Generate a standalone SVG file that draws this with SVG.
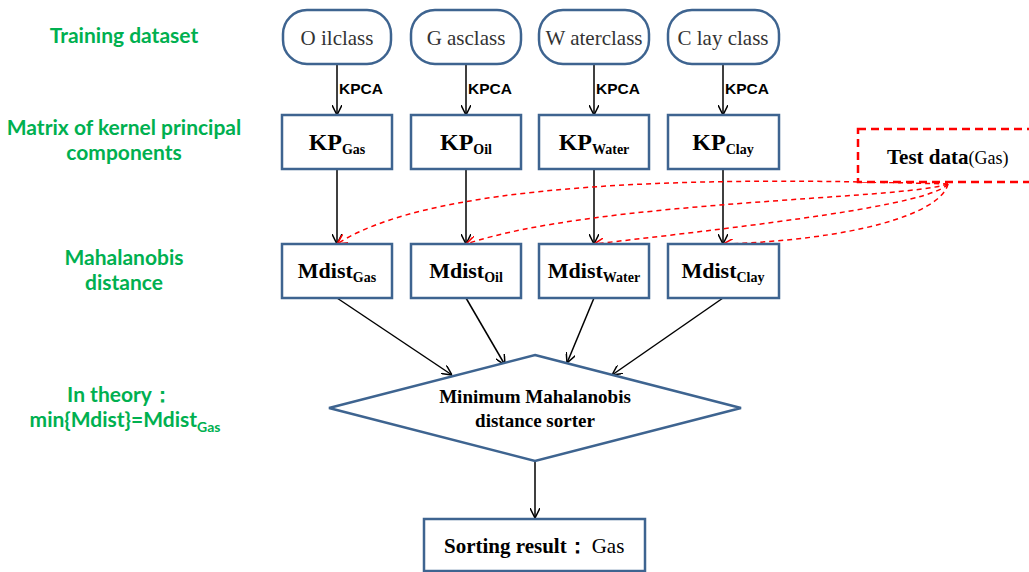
<svg xmlns="http://www.w3.org/2000/svg" width="1029" height="572" viewBox="0 0 1029 572">
<defs>
<style>
.box{fill:#fff;stroke:#3E6490;stroke-width:2.5}
.lbl{font-family:"Lato","Liberation Sans",sans-serif;font-weight:bold;fill:#00B050;font-size:21px;text-anchor:middle}
.cls{font-family:"Liberation Serif",serif;font-size:21px;fill:#333;text-anchor:middle}
.kpca{font-family:"Liberation Sans",sans-serif;font-weight:bold;font-size:15.5px;fill:#000}
.bt{font-family:"Liberation Serif",serif;font-weight:bold;fill:#000;text-anchor:middle}
.conn{stroke:#000;stroke-width:1.5;fill:none}
.red{stroke:#FF0000;stroke-width:1.5;fill:none;stroke-dasharray:5,4}
</style>
<marker id="ah" viewBox="0 0 10 10" refX="10" refY="5" markerWidth="10" markerHeight="10" markerUnits="userSpaceOnUse" orient="auto"><path d="M0,0 L10,5 L0,10" fill="none" stroke="#000" stroke-width="1.5"/></marker>
<marker id="rh" viewBox="0 0 10 10" refX="10" refY="5" markerWidth="10" markerHeight="10" markerUnits="userSpaceOnUse" orient="auto"><path d="M0,0 L10,5 L0,10" fill="none" stroke="#FF0000" stroke-width="1.5"/></marker>
</defs>
<rect width="1029" height="572" fill="#fff"/>

<g id="labels">
<text class="lbl" x="124" y="43">Training dataset</text>
<text class="lbl" x="124" y="135">Matrix of kernel principal</text>
<text class="lbl" x="124" y="160">components</text>
<text class="lbl" x="124" y="265">Mahalanobis</text>
<text class="lbl" x="124" y="290">distance</text>
<text class="lbl" x="120" y="402">In theory：</text>
<text class="lbl" x="125" y="427">min{Mdist}=Mdist<tspan font-size="14" dy="5">Gas</tspan></text>
</g>

<g id="connectors">
<line class="conn" x1="337" y1="64" x2="337" y2="115" marker-end="url(#ah)"/>
<line class="conn" x1="466" y1="64" x2="466" y2="115" marker-end="url(#ah)"/>
<line class="conn" x1="594" y1="64" x2="594" y2="115" marker-end="url(#ah)"/>
<line class="conn" x1="723" y1="64" x2="723" y2="115" marker-end="url(#ah)"/>
<line class="conn" x1="337" y1="169" x2="337" y2="244" marker-end="url(#ah)"/>
<line class="conn" x1="466" y1="169" x2="466" y2="244" marker-end="url(#ah)"/>
<line class="conn" x1="594" y1="169" x2="594" y2="244" marker-end="url(#ah)"/>
<line class="conn" x1="723" y1="169" x2="723" y2="244" marker-end="url(#ah)"/>
<line class="conn" x1="337" y1="298" x2="452" y2="375" marker-end="url(#ah)"/>
<line class="conn" x1="466" y1="298" x2="505" y2="365" marker-end="url(#ah)"/>
<line class="conn" x1="594" y1="298" x2="567" y2="363" marker-end="url(#ah)"/>
<line class="conn" x1="723" y1="298" x2="612" y2="375" marker-end="url(#ah)"/>
<line class="conn" x1="535" y1="461" x2="535" y2="518" marker-end="url(#ah)"/>
<path class="red" d="M948,184 C800,180 450,170 337,244" marker-end="url(#rh)"/>
<path class="red" d="M948,184 C900,200 600,200 466,244" marker-end="url(#rh)"/>
<path class="red" d="M948,184 C930,205 760,225 594,244" marker-end="url(#rh)"/>
<path class="red" d="M948,184 C940,215 850,240 723,244" marker-end="url(#rh)"/>
<text class="kpca" x="339" y="94">KPCA</text>
<text class="kpca" x="468" y="94">KPCA</text>
<text class="kpca" x="596" y="94">KPCA</text>
<text class="kpca" x="725" y="94">KPCA</text>
</g>

<g id="oil-class"><rect class="box" x="283" y="10" width="108" height="54" rx="24"/><text class="cls" x="337" y="45">O ilclass</text></g>
<g id="gas-class"><rect class="box" x="411" y="10" width="110" height="54" rx="24"/><text class="cls" x="466" y="45">G asclass</text></g>
<g id="water-class"><rect class="box" x="539" y="10" width="110" height="54" rx="24"/><text class="cls" x="594" y="45">W aterclass</text></g>
<g id="clay-class"><rect class="box" x="668" y="10" width="111" height="54" rx="24"/><text class="cls" x="723" y="45">C lay class</text></g>

<g id="kp-gas"><rect class="box" x="282" y="115" width="110" height="54"/><text class="bt" x="337" y="150" font-size="24">KP<tspan font-size="14" dy="4">Gas</tspan></text></g>
<g id="kp-oil"><rect class="box" x="411" y="115" width="110" height="54"/><text class="bt" x="466" y="150" font-size="24">KP<tspan font-size="14" dy="4">Oil</tspan></text></g>
<g id="kp-water"><rect class="box" x="539" y="115" width="110" height="54"/><text class="bt" x="594" y="150" font-size="24">KP<tspan font-size="14" dy="4">Water</tspan></text></g>
<g id="kp-clay"><rect class="box" x="668" y="115" width="111" height="54"/><text class="bt" x="723" y="150" font-size="24">KP<tspan font-size="14" dy="4">Clay</tspan></text></g>

<g id="test-data"><rect x="858" y="129" width="190" height="53" fill="#fff" stroke="#FF0000" stroke-width="2.5" stroke-dasharray="8,5"/><text x="887" y="164" font-family="Liberation Serif,serif" font-size="21" font-weight="bold" fill="#000">Test data<tspan font-weight="normal" font-size="18">(Gas)</tspan></text></g>

<g id="mdist-gas"><rect class="box" x="282" y="244" width="110" height="54"/><text class="bt" x="337" y="278" font-size="22">Mdist<tspan font-size="14" dy="4">Gas</tspan></text></g>
<g id="mdist-oil"><rect class="box" x="411" y="244" width="110" height="54"/><text class="bt" x="466" y="278" font-size="22">Mdist<tspan font-size="14" dy="4">Oil</tspan></text></g>
<g id="mdist-water"><rect class="box" x="539" y="244" width="110" height="54"/><text class="bt" x="594" y="278" font-size="22">Mdist<tspan font-size="14" dy="4">Water</tspan></text></g>
<g id="mdist-clay"><rect class="box" x="668" y="244" width="111" height="54"/><text class="bt" x="723" y="278" font-size="22">Mdist<tspan font-size="14" dy="4">Clay</tspan></text></g>

<g id="sorter"><polygon class="box" points="535,355 741,408 535,461 329,408"/><text class="bt" x="535" y="403" font-size="19">Minimum Mahalanobis</text><text class="bt" x="535" y="427" font-size="19">distance sorter</text></g>

<g id="result"><rect class="box" x="424" y="519" width="221" height="52"/><text x="444" y="553" font-family="Liberation Serif,serif" font-size="21" fill="#000"><tspan font-weight="bold">Sorting result：</tspan><tspan dx="4">Gas</tspan></text></g>
</svg>
